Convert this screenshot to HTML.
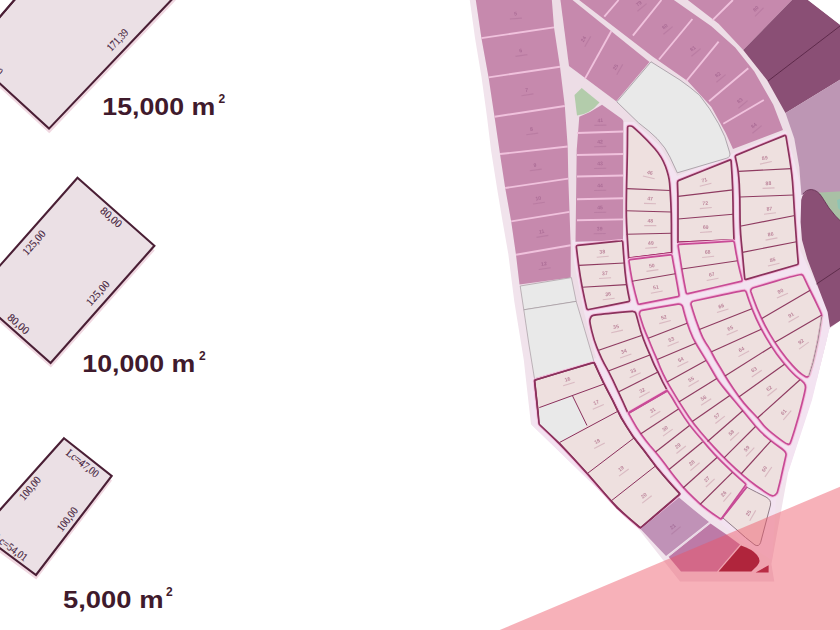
<!DOCTYPE html>
<html><head><meta charset="utf-8"><title>Lot map</title>
<style>
html,body{margin:0;padding:0;background:#fff;}
body{width:840px;height:630px;overflow:hidden;font-family:"Liberation Sans",sans-serif;}
svg{display:block}
.big{font-family:"Liberation Sans",sans-serif;font-weight:bold;font-size:23px;fill:#3f1a2c;}
.sup{font-family:"Liberation Sans",sans-serif;font-weight:bold;font-size:12px;fill:#3f1a2c;}
.dim text{font-family:"Liberation Serif",serif;font-size:11px;fill:#43203a;stroke:#43203a;stroke-width:.15px;text-anchor:middle;}
.lb text{font-family:"Liberation Sans",sans-serif;font-size:5.2px;text-anchor:middle;font-weight:bold;opacity:.7}
</style></head><body>
<svg width="840" height="630" viewBox="0 0 840 630">
<rect width="840" height="630" fill="#fff"/>
<!-- legend shapes -->
<g>
<polygon points="-31.7,58.8 49.3,133.2 190.7,-15.4 31.7,-15.4" fill="#f0d8e1"/>
<polygon points="-32,54.2 49,128.6 190.4,-20 31.4,-20" fill="#ebe0e5" stroke="#4a1f35" stroke-width="2.1" stroke-linejoin="miter"/>
<polygon points="-3,19 13,0 -3,0" fill="#fff"/>
<line x1="-3" y1="20.2" x2="16" y2="-2" stroke="#4a1f35" stroke-width="2.1"/>
<polygon points="77.8,182.3 154.7,250.4 50.9,367.6 -25.7,299.6" fill="#f0d8e1"/>
<polygon points="77.5,177.7 154.4,245.8 50.6,363 -26,295" fill="#ebe0e5" stroke="#4a1f35" stroke-width="2.1"/>
<polygon points="64.3,442.9 112.0,480.6 36.3,579.6 -20.3,537.6" fill="#f0d8e1"/>
<polygon points="64,438.3 111.7,476 36,575 -20.6,533" fill="#ebe0e5" stroke="#4a1f35" stroke-width="2.1"/>
</g>
<g class="dim">
<g transform="translate(117.6 40) rotate(-46.4) scale(.85 1)"><text x="0" y="3.6">171,39</text></g>
<g transform="translate(-6.6 66.3) rotate(43) scale(.85 1)"><text x="0" y="3.6">00,00</text></g>
<g transform="translate(111.2 217.3) rotate(41.4) scale(1 1)"><text x="0" y="3.6">80,00</text></g>
<g transform="translate(33.9 242.7) rotate(-48.6) scale(.97 1)"><text x="0" y="3.6">125,00</text></g>
<g transform="translate(97.8 293) rotate(-48.6) scale(.97 1)"><text x="0" y="3.6">125,00</text></g>
<g transform="translate(18.4 323.9) rotate(41.4) scale(1 1)"><text x="0" y="3.6">80,00</text></g>
<g transform="translate(82.7 463.3) rotate(38.3) scale(.9 1)"><text x="0" y="3.6">Lc=47,00</text></g>
<g transform="translate(30 488.3) rotate(-50) scale(.9 1)"><text x="0" y="3.6">100,00</text></g>
<g transform="translate(67.3 519.3) rotate(-52.6) scale(.9 1)"><text x="0" y="3.6">100,00</text></g>
<g transform="translate(11 547.5) rotate(36.5) scale(.9 1)"><text x="0" y="3.6">Lc=54,01</text></g>
</g>
<text class="big" x="102.3" y="114.8" textLength="113" lengthAdjust="spacingAndGlyphs">15,000 m</text>
<text class="sup" x="218.5" y="102.5">2</text>
<text class="big" x="82.3" y="372.4" textLength="113" lengthAdjust="spacingAndGlyphs">10,000 m</text>
<text class="sup" x="199" y="360">2</text>
<text class="big" x="63" y="607.5" textLength="100.5" lengthAdjust="spacingAndGlyphs">5,000 m</text>
<text class="sup" x="166" y="596.3">2</text>
<!-- map -->
<defs><filter id="sf" x="-5%" y="-5%" width="110%" height="110%"><feGaussianBlur stdDeviation="0.55"/></filter></defs>
<g filter="url(#sf)">
<polygon points="469.5,-2.0 475.0,38.0 481.5,77.0 487.0,117.0 491.0,150.0 497.0,188.0 502.5,221.0 508.3,254.0 514.3,301.4 523.8,360.0 526.0,380.0 531.0,424.3 637.0,527.0 680.0,581.4 774.3,581.4 771.4,564.0 788.6,470.0 811.4,400.0 826.3,341.5 829.0,329.0 842.0,319.0 842.0,-2.0" fill="#f1e3ec"/>
<polygon points="475.5,-2.0 481.4,38.1 488.6,77.4 494.5,116.7 500.0,154.0 505.2,188.0 511.2,221.4 516.0,254.8 519.5,284.5 523.8,309.8 534.5,378.8 817.0,378.8 826.3,341.5 829.0,329.0 842.0,319.0 842.0,-2.0" fill="#eddde6"/>
<polygon points="572.0,240.0 624.0,236.0 624.0,122.0 634.0,122.0 660.0,146.0 677.0,176.0 732.0,154.0 786.0,131.0 802.0,190.0 800.0,250.0 832.0,318.0 812.0,400.0 789.0,470.0 776.0,500.0 772.0,560.0 740.0,540.0 700.0,505.0 680.0,497.0 640.0,530.0 532.0,425.0 530.0,378.0 596.0,358.0 584.0,312.0 574.0,262.0" fill="#f3e3f1"/>
<polygon points="475.5,-2.0 481.4,38.1 488.6,77.4 494.5,116.7 500.0,154.0 505.2,188.0 511.2,221.4 516.0,254.8 519.5,284.5 570.7,277.4 570.7,245.2 569.5,211.9 568.3,178.6 567.7,146.5 564.8,106.0 560.0,66.7 554.0,27.4 551.7,-2.0" fill="#c689ad"/>
<line x1="481.4" y1="38.1" x2="554.0" y2="27.4" stroke="#f0c2dd" stroke-width="1.9"/>
<line x1="488.6" y1="77.4" x2="560.0" y2="66.7" stroke="#f0c2dd" stroke-width="1.9"/>
<line x1="494.5" y1="116.7" x2="564.8" y2="106.0" stroke="#f0c2dd" stroke-width="1.9"/>
<line x1="500.0" y1="154.0" x2="567.7" y2="146.5" stroke="#f0c2dd" stroke-width="1.9"/>
<line x1="505.2" y1="188.0" x2="568.3" y2="178.6" stroke="#f0c2dd" stroke-width="1.9"/>
<line x1="511.2" y1="221.4" x2="569.5" y2="211.9" stroke="#f0c2dd" stroke-width="1.9"/>
<line x1="516.0" y1="254.8" x2="570.7" y2="245.2" stroke="#f0c2dd" stroke-width="1.9"/>
<polygon points="520.2,286.0 571.4,277.6 576.2,301.4 523.8,309.8" fill="#e9e9e9" stroke="#9a8f96" stroke-width="0.6"/>
<polygon points="523.8,309.8 576.2,301.4 583.3,325.2 591.7,353.8 594.0,362.0 534.5,378.8 529.0,345.0" fill="#e9e9e9" stroke="#9a8f96" stroke-width="0.6"/>
<polygon points="579.3,116.7 590.0,112.0 602.0,104.8 622.0,119.0 623.3,121.0 623.0,240.5 575.5,241.7 576.7,150.0" fill="#c689ad"/>
<line x1="577.0" y1="133.0" x2="623.2" y2="131.5" stroke="#f0c2dd" stroke-width="1.9"/>
<line x1="577.0" y1="155.0" x2="623.2" y2="154.0" stroke="#f0c2dd" stroke-width="1.9"/>
<line x1="577.0" y1="176.5" x2="623.2" y2="175.5" stroke="#f0c2dd" stroke-width="1.9"/>
<line x1="577.0" y1="199.2" x2="623.2" y2="198.2" stroke="#f0c2dd" stroke-width="1.9"/>
<line x1="577.0" y1="220.3" x2="623.2" y2="219.4" stroke="#f0c2dd" stroke-width="1.9"/>
<polygon points="560.2,-2.0 570.0,-2.0 649.5,62.0 616.2,101.2 569.0,66.0" fill="#c689ad"/>
<line x1="585.0" y1="78.6" x2="611.4" y2="31.0" stroke="#f0c2dd" stroke-width="1.9"/>
<path d="M581.7,88 L574.5,95 L577,115.5 Q590,114 599.5,102.4 Z" fill="#b3ccab"/>
<polygon points="576.5,-2.0 671.0,-2.0 711.4,26.2 735.2,47.6 754.3,71.4 773.3,104.8 783.0,130.0 733.0,149.0 725.7,133.0 711.4,107.0 687.6,81.0 653.2,57.0" fill="#c689ad"/>
<line x1="604.3" y1="16.7" x2="618.6" y2="0.0" stroke="#f0c2dd" stroke-width="1.9"/>
<line x1="632.9" y1="35.7" x2="661.4" y2="0.0" stroke="#f0c2dd" stroke-width="1.9"/>
<line x1="659.0" y1="59.5" x2="692.4" y2="19.0" stroke="#f0c2dd" stroke-width="1.9"/>
<line x1="686.4" y1="81.0" x2="718.6" y2="41.7" stroke="#f0c2dd" stroke-width="1.9"/>
<line x1="709.0" y1="101.2" x2="748.3" y2="68.3" stroke="#f0c2dd" stroke-width="1.9"/>
<line x1="723.3" y1="123.8" x2="763.8" y2="100.0" stroke="#f0c2dd" stroke-width="1.9"/>
<polygon points="685.2,-2.0 794.0,-2.0 743.2,50.0 718.6,23.8" fill="#c689ad"/>
<line x1="712.6" y1="20.2" x2="732.9" y2="0.0" stroke="#f0c2dd" stroke-width="1.9"/>
<polygon points="743.2,50.0 794.0,-2.0 805.4,-2.0 842.0,26.2 842.0,78.5 785.5,113.0 767.0,80.0" fill="#8a4f74"/>
<line x1="768" y1="81" x2="842" y2="24.5" stroke="#5e2a4c" stroke-width="1"/>
<polygon points="805.4,-2.0 842.0,-2.0 842.0,26.2" fill="#fff"/>
<polygon points="785.5,113.0 842.0,78.5 842.0,195.0 801.4,195.0 799.3,167.0 794.3,138.6" fill="#bd96b4"/>
<polygon points="816.0,192.8 842.0,191.2 842.0,224.0 835.5,216.0 829.0,208.0 822.0,197.0" fill="#a9c0a5"/>
<polygon points="837.0,200.0 842.0,198.0 842.0,212.0 838.0,208.0" fill="#8fc4b4"/>
<path d="M811.4,189.5 Q803.5,190 801.2,200 L800.6,222 L802,240 L807.3,259 L816,281.7 L827.6,312 L830,327.2 L842,319.5 L842,222.5 L835.5,216 L829,208 L822,197 Q817.5,190 811.4,189.5 Z" fill="#8a4f74"/>
<path d="M803,194 Q806,189.5 811.4,189.5 Q817.5,190 822,197 L829,208 L835.5,216 L842,222.5" fill="none" stroke="#5e2a4c" stroke-width="0.8"/>
<line x1="842" y1="267" x2="816.5" y2="284" stroke="#5e2a4c" stroke-width="1"/>
<path d="M651,61.8 L616.8,101.8 L638.6,122.9 Q650,131.5 657.1,138.6 Q666,148 670,157.1 L677.3,172.8 L726.8,158.2 Q730.6,157 729.8,153 L728.6,149 Q726,137 718.6,123.8 Q710,108 699.5,95.2 Q690,87 680,80 L651,61.8 Z" fill="#e9e9e9" stroke="#948b93" stroke-width="0.7"/>
<path d="M577.4,255.6 L576.4,247.1 Q576.2,245.5 577.8,245.3 L599.4,243.1 L621.0,240.9 Q622.6,240.7 622.7,242.3 L623.3,250.8 Q624.0,261.0 625.1,272.3 Q626.2,283.6 628.0,292.5 L629.5,299.8 Q629.8,301.4 628.2,301.7 L608.4,305.6 L588.6,309.5 Q587.0,309.8 586.7,308.2 L584.5,298.4 Q582.0,287.0 580.3,276.4 Q578.6,265.7 577.4,255.6 Z" fill="none" stroke="#f4bcdc" stroke-width="3.6" stroke-linejoin="round"/>
<path d="M577.4,255.6 L576.4,247.1 Q576.2,245.5 577.8,245.3 L599.4,243.1 L621.0,240.9 Q622.6,240.7 622.7,242.3 L623.3,250.8 Q624.0,261.0 625.1,272.3 Q626.2,283.6 628.0,292.5 L629.5,299.8 Q629.8,301.4 628.2,301.7 L608.4,305.6 L588.6,309.5 Q587.0,309.8 586.7,308.2 L584.5,298.4 Q582.0,287.0 580.3,276.4 Q578.6,265.7 577.4,255.6 Z" fill="#eee0df" stroke="#8b305c" stroke-width="1.7" stroke-linejoin="round"/>
<line x1="578.8" y1="265.4" x2="624.2" y2="263.0" stroke="#8e3a60" stroke-width="1.15"/>
<line x1="582.0" y1="287.2" x2="626.5" y2="284.6" stroke="#8e3a60" stroke-width="1.15"/>
<path d="M627.5,138.0 L627.6,127.6 Q627.6,126.0 629.2,126.0 L629.8,126.0 L630.4,126.0 Q632.0,126.0 633.2,127.1 L639.8,133.2 Q647.6,140.5 654.8,148.8 Q661.9,157.0 665.5,166.5 Q669.0,176.0 669.6,183.2 Q670.2,190.5 670.8,202.2 Q671.4,214.0 671.4,224.2 Q671.4,234.5 671.5,243.8 L671.6,251.4 Q671.6,253.0 670.0,253.2 L650.2,255.7 L630.3,258.1 Q628.7,258.3 628.6,256.7 L627.5,240.2 Q626.3,222.0 626.3,209.5 Q626.3,197.0 626.9,173.5 Q627.5,150.0 627.5,138.0 Z" fill="none" stroke="#f4bcdc" stroke-width="3.6" stroke-linejoin="round"/>
<path d="M627.5,138.0 L627.6,127.6 Q627.6,126.0 629.2,126.0 L629.8,126.0 L630.4,126.0 Q632.0,126.0 633.2,127.1 L639.8,133.2 Q647.6,140.5 654.8,148.8 Q661.9,157.0 665.5,166.5 Q669.0,176.0 669.6,183.2 Q670.2,190.5 670.8,202.2 Q671.4,214.0 671.4,224.2 Q671.4,234.5 671.5,243.8 L671.6,251.4 Q671.6,253.0 670.0,253.2 L650.2,255.7 L630.3,258.1 Q628.7,258.3 628.6,256.7 L627.5,240.2 Q626.3,222.0 626.3,209.5 Q626.3,197.0 626.9,173.5 Q627.5,150.0 627.5,138.0 Z" fill="#eee0df" stroke="#8b305c" stroke-width="1.7" stroke-linejoin="round"/>
<line x1="626.8" y1="188.6" x2="670.2" y2="190.5" stroke="#8e3a60" stroke-width="1.15"/>
<line x1="626.3" y1="210.7" x2="671.2" y2="212.0" stroke="#8e3a60" stroke-width="1.15"/>
<line x1="626.4" y1="234.2" x2="671.4" y2="233.2" stroke="#8e3a60" stroke-width="1.15"/>
<line x1="628.7" y1="258.3" x2="671.6" y2="253.0" stroke="#a62a6a" stroke-width="2" stroke-linecap="round"/>
<path d="M677.7,188.7 L677.5,182.6 Q677.4,181.0 678.9,180.4 L704.2,170.2 L729.5,160.1 Q731.0,159.5 731.1,161.1 L732.0,174.8 Q732.9,190.0 733.0,202.2 Q733.0,214.3 733.5,227.2 L733.9,238.4 Q734.0,240.0 732.4,240.1 L706.0,241.2 L679.6,242.4 Q678.0,242.5 678.0,240.9 L678.0,230.8 Q678.0,219.0 678.0,207.7 Q678.0,196.4 677.7,188.7 Z" fill="none" stroke="#f4bcdc" stroke-width="3.6" stroke-linejoin="round"/>
<path d="M677.7,188.7 L677.5,182.6 Q677.4,181.0 678.9,180.4 L704.2,170.2 L729.5,160.1 Q731.0,159.5 731.1,161.1 L732.0,174.8 Q732.9,190.0 733.0,202.2 Q733.0,214.3 733.5,227.2 L733.9,238.4 Q734.0,240.0 732.4,240.1 L706.0,241.2 L679.6,242.4 Q678.0,242.5 678.0,240.9 L678.0,230.8 Q678.0,219.0 678.0,207.7 Q678.0,196.4 677.7,188.7 Z" fill="#eee0df" stroke="#8b305c" stroke-width="1.7" stroke-linejoin="round"/>
<line x1="678.0" y1="196.4" x2="732.9" y2="189.9" stroke="#8e3a60" stroke-width="1.15"/>
<line x1="678.0" y1="219.0" x2="733.0" y2="214.3" stroke="#8e3a60" stroke-width="1.15"/>
<line x1="678.0" y1="242.5" x2="734.0" y2="240.0" stroke="#a62a6a" stroke-width="2" stroke-linecap="round"/>
<path d="M736.8,163.6 L735.4,157.3 Q735.0,155.7 736.5,155.1 L760.4,145.3 L784.2,135.6 Q785.7,135.0 786.0,136.6 L788.5,151.8 Q791.4,168.6 792.5,181.8 Q793.5,195.0 794.2,208.2 Q795.0,221.4 795.8,231.7 Q796.5,242.0 797.4,253.2 L798.2,262.7 Q798.3,264.3 796.8,264.7 L771.5,272.1 L746.3,279.4 Q744.8,279.8 744.7,278.2 L743.6,266.1 Q742.4,252.4 741.2,240.5 Q740.0,228.6 740.0,212.8 Q740.0,197.0 739.3,184.2 Q738.6,171.4 736.8,163.6 Z" fill="none" stroke="#f4bcdc" stroke-width="3.6" stroke-linejoin="round"/>
<path d="M736.8,163.6 L735.4,157.3 Q735.0,155.7 736.5,155.1 L760.4,145.3 L784.2,135.6 Q785.7,135.0 786.0,136.6 L788.5,151.8 Q791.4,168.6 792.5,181.8 Q793.5,195.0 794.2,208.2 Q795.0,221.4 795.8,231.7 Q796.5,242.0 797.4,253.2 L798.2,262.7 Q798.3,264.3 796.8,264.7 L771.5,272.1 L746.3,279.4 Q744.8,279.8 744.7,278.2 L743.6,266.1 Q742.4,252.4 741.2,240.5 Q740.0,228.6 740.0,212.8 Q740.0,197.0 739.3,184.2 Q738.6,171.4 736.8,163.6 Z" fill="#eee0df" stroke="#8b305c" stroke-width="1.7" stroke-linejoin="round"/>
<line x1="738.6" y1="171.4" x2="791.4" y2="168.6" stroke="#8e3a60" stroke-width="1.15"/>
<line x1="740.0" y1="197.0" x2="793.6" y2="195.0" stroke="#8e3a60" stroke-width="1.15"/>
<line x1="740.0" y1="226.2" x2="794.8" y2="215.5" stroke="#8e3a60" stroke-width="1.15"/>
<line x1="742.4" y1="252.4" x2="796.5" y2="241.7" stroke="#8e3a60" stroke-width="1.15"/>
<path d="M589.9,320.2 Q590.2,318.4 590.9,317.2 L590.9,317.1 Q591.5,316.0 592.6,315.6 L592.8,315.5 Q594.0,315.0 612.6,313.1 Q631.2,311.2 633.1,311.5 L633.4,311.6 Q635.0,311.8 635.6,313.0 L635.6,313.1 Q636.3,314.5 638.5,323.1 Q640.7,331.7 643.5,339.3 Q646.4,346.9 648.7,351.9 Q651.0,357.0 652.6,361.1 Q654.3,365.2 656.9,370.1 Q659.5,375.0 661.0,378.5 Q662.5,382.0 664.9,386.2 L666.5,389.1 Q667.3,390.5 665.9,391.3 L647.7,401.8 L629.5,412.3 Q628.1,413.1 627.4,411.6 L622.9,401.6 Q617.6,390.2 612.9,380.2 Q608.1,370.2 606.2,367.1 Q604.3,364.0 602.0,359.2 Q599.8,354.5 596.9,347.4 Q594.0,340.2 591.8,331.1 Q589.6,322.0 589.9,320.2 Z" fill="none" stroke="#f4bcdc" stroke-width="3.6" stroke-linejoin="round"/>
<path d="M589.9,320.2 Q590.2,318.4 590.9,317.2 L590.9,317.1 Q591.5,316.0 592.6,315.6 L592.8,315.5 Q594.0,315.0 612.6,313.1 Q631.2,311.2 633.1,311.5 L633.4,311.6 Q635.0,311.8 635.6,313.0 L635.6,313.1 Q636.3,314.5 638.5,323.1 Q640.7,331.7 643.5,339.3 Q646.4,346.9 648.7,351.9 Q651.0,357.0 652.6,361.1 Q654.3,365.2 656.9,370.1 Q659.5,375.0 661.0,378.5 Q662.5,382.0 664.9,386.2 L666.5,389.1 Q667.3,390.5 665.9,391.3 L647.7,401.8 L629.5,412.3 Q628.1,413.1 627.4,411.6 L622.9,401.6 Q617.6,390.2 612.9,380.2 Q608.1,370.2 606.2,367.1 Q604.3,364.0 602.0,359.2 Q599.8,354.5 596.9,347.4 Q594.0,340.2 591.8,331.1 Q589.6,322.0 589.9,320.2 Z" fill="#eee0df" stroke="#8b305c" stroke-width="1.7" stroke-linejoin="round"/>
<line x1="598.0" y1="350.5" x2="641.5" y2="335.5" stroke="#8e3a60" stroke-width="1.15"/>
<line x1="608.3" y1="371.0" x2="650.5" y2="354.8" stroke="#8e3a60" stroke-width="1.15"/>
<line x1="618.3" y1="392.0" x2="658.5" y2="371.8" stroke="#8e3a60" stroke-width="1.15"/>
<line x1="628.6" y1="412.8" x2="667.0" y2="390.7" stroke="#c84c96" stroke-width="2" stroke-linecap="round"/>
<path d="M536.9,402.2 L534.7,381.8 Q534.5,380.2 536.0,379.7 L564.2,371.3 L592.5,362.9 Q594.0,362.4 594.7,363.9 L598.6,372.5 Q603.3,382.6 608.0,391.6 Q612.8,400.5 617.0,409.3 Q621.2,418.1 626.9,427.1 Q632.6,436.2 638.0,443.0 Q643.5,449.8 650.3,459.0 Q657.1,468.1 662.9,474.8 Q668.6,481.4 674.3,487.7 L678.9,492.8 Q680.0,494.0 678.8,495.0 L660.2,511.0 L641.7,527.0 Q640.5,528.0 639.3,527.0 L628.6,517.8 Q616.7,507.6 602.4,491.0 Q588.0,474.3 573.8,458.8 Q559.5,443.3 549.4,433.8 L540.5,425.4 Q539.3,424.3 539.1,422.7 L536.9,402.2 Z" fill="none" stroke="#f4bcdc" stroke-width="3.6" stroke-linejoin="round"/>
<path d="M536.9,402.2 L534.7,381.8 Q534.5,380.2 536.0,379.7 L564.2,371.3 L592.5,362.9 Q594.0,362.4 594.7,363.9 L598.6,372.5 Q603.3,382.6 608.0,391.6 Q612.8,400.5 617.0,409.3 Q621.2,418.1 626.9,427.1 Q632.6,436.2 638.0,443.0 Q643.5,449.8 650.3,459.0 Q657.1,468.1 662.9,474.8 Q668.6,481.4 674.3,487.7 L678.9,492.8 Q680.0,494.0 678.8,495.0 L660.2,511.0 L641.7,527.0 Q640.5,528.0 639.3,527.0 L628.6,517.8 Q616.7,507.6 602.4,491.0 Q588.0,474.3 573.8,458.8 Q559.5,443.3 549.4,433.8 L540.5,425.4 Q539.3,424.3 539.1,422.7 L536.9,402.2 Z" fill="#eee0df" stroke="#8b305c" stroke-width="1.7" stroke-linejoin="round"/>
<polygon points="539.3,407.6 572.6,396.0 587.0,425.5 559.5,443.3 539.3,424.3" fill="#e9e9e9"/>
<polygon points="534.5,380.2 594.0,362.4 603.3,382.6 612.8,400.5 621.2,418.1 632.6,436.2 643.5,449.8 657.1,468.1 668.6,481.4 680.0,494.0 640.5,528.0 616.7,507.6 588.0,474.3 559.5,443.3 539.3,424.3" fill="none" stroke="#8b305c" stroke-width="1.5" stroke-linejoin="round"/>
<line x1="539.3" y1="407.6" x2="604" y2="384" stroke="#8b305c" stroke-width="1"/>
<line x1="572.6" y1="396" x2="587" y2="425.5" stroke="#8b305c" stroke-width="1"/>
<line x1="559.5" y1="442.5" x2="618" y2="411.2" stroke="#8b305c" stroke-width="1"/>
<line x1="588" y1="473" x2="634" y2="438" stroke="#8b305c" stroke-width="1"/>
<line x1="611" y1="501" x2="655.5" y2="466" stroke="#8b305c" stroke-width="1"/>
<path d="M630.4,270.6 L629.0,261.4 Q628.8,259.8 630.4,259.6 L650.3,257.2 L670.2,254.8 Q671.8,254.6 672.1,256.2 L673.5,264.1 Q675.3,273.5 677.3,284.9 L679.0,294.7 Q679.3,296.3 677.7,296.6 L658.8,300.4 L639.8,304.2 Q638.2,304.5 637.8,303.0 L635.1,292.9 Q632.0,281.3 630.4,270.6 Z" fill="none" stroke="#f4bcdc" stroke-width="3.6" stroke-linejoin="round"/>
<path d="M630.4,270.6 L629.0,261.4 Q628.8,259.8 630.4,259.6 L650.3,257.2 L670.2,254.8 Q671.8,254.6 672.1,256.2 L673.5,264.1 Q675.3,273.5 677.3,284.9 L679.0,294.7 Q679.3,296.3 677.7,296.6 L658.8,300.4 L639.8,304.2 Q638.2,304.5 637.8,303.0 L635.1,292.9 Q632.0,281.3 630.4,270.6 Z" fill="#eee0df" stroke="#c84c96" stroke-width="1.7" stroke-linejoin="round"/>
<line x1="632.0" y1="281.2" x2="675.3" y2="273.8" stroke="#8e3a60" stroke-width="1.15"/>
<path d="M679.9,256.8 L678.2,246.1 Q678.0,244.5 679.6,244.4 L706.0,242.8 L732.4,241.1 Q734.0,241.0 734.3,242.6 L735.8,251.5 Q737.6,262.0 740.0,271.5 L742.0,279.4 Q742.4,281.0 740.8,281.4 L714.4,287.5 L688.0,293.6 Q686.4,294.0 686.1,292.4 L684.0,281.5 Q681.7,269.0 679.9,256.8 Z" fill="none" stroke="#f4bcdc" stroke-width="3.6" stroke-linejoin="round"/>
<path d="M679.9,256.8 L678.2,246.1 Q678.0,244.5 679.6,244.4 L706.0,242.8 L732.4,241.1 Q734.0,241.0 734.3,242.6 L735.8,251.5 Q737.6,262.0 740.0,271.5 L742.0,279.4 Q742.4,281.0 740.8,281.4 L714.4,287.5 L688.0,293.6 Q686.4,294.0 686.1,292.4 L684.0,281.5 Q681.7,269.0 679.9,256.8 Z" fill="#eee0df" stroke="#c84c96" stroke-width="1.7" stroke-linejoin="round"/>
<line x1="681.7" y1="269.0" x2="737.6" y2="260.7" stroke="#8e3a60" stroke-width="1.15"/>
<path d="M639.9,312.1 L639.8,312.2 Q639.3,313.5 639.7,315.0 L641.2,320.1 Q643.1,326.7 645.8,332.9 Q648.5,339.0 651.0,345.2 Q653.5,351.5 655.5,355.8 Q657.4,360.0 658.5,363.1 Q659.5,366.2 663.1,373.8 Q666.7,381.4 671.0,388.4 Q675.2,395.5 679.5,402.4 Q683.8,409.3 689.0,416.9 Q694.3,424.5 700.6,432.0 Q707.0,439.5 713.8,446.9 Q720.5,454.2 728.4,461.9 Q736.2,469.5 742.9,475.2 Q749.5,481.0 756.2,485.8 Q762.9,490.5 766.5,492.9 Q770.0,495.3 771.8,495.6 L771.9,495.7 Q773.5,496.0 774.8,495.1 L775.2,494.8 L775.7,494.4 Q777.0,493.5 777.4,492.0 L778.5,487.8 Q780.0,482.0 780.8,478.5 Q781.5,475.0 783.9,464.5 L785.9,455.6 Q786.3,454.0 785.5,452.6 L785.3,452.3 Q784.3,450.6 779.6,447.3 Q775.0,444.0 767.9,438.3 Q760.8,432.6 755.1,425.8 Q749.5,419.0 744.8,413.2 Q740.0,407.4 734.8,401.2 Q729.5,395.0 724.8,389.1 Q720.0,383.3 718.1,380.5 Q716.2,377.6 712.4,371.0 Q708.6,364.3 704.6,357.9 Q700.6,351.5 696.6,344.8 Q692.6,338.1 689.8,330.5 Q686.9,322.9 684.6,314.2 L682.7,307.0 Q682.3,305.5 681.0,304.8 L680.9,304.7 L680.8,304.6 Q679.5,303.9 677.9,304.2 L660.0,307.2 L642.1,310.3 Q640.5,310.6 640.0,311.9 L639.9,312.1 Z" fill="none" stroke="#f4bcdc" stroke-width="3.6" stroke-linejoin="round"/>
<path d="M639.9,312.1 L639.8,312.2 Q639.3,313.5 639.7,315.0 L641.2,320.1 Q643.1,326.7 645.8,332.9 Q648.5,339.0 651.0,345.2 Q653.5,351.5 655.5,355.8 Q657.4,360.0 658.5,363.1 Q659.5,366.2 663.1,373.8 Q666.7,381.4 671.0,388.4 Q675.2,395.5 679.5,402.4 Q683.8,409.3 689.0,416.9 Q694.3,424.5 700.6,432.0 Q707.0,439.5 713.8,446.9 Q720.5,454.2 728.4,461.9 Q736.2,469.5 742.9,475.2 Q749.5,481.0 756.2,485.8 Q762.9,490.5 766.5,492.9 Q770.0,495.3 771.8,495.6 L771.9,495.7 Q773.5,496.0 774.8,495.1 L775.2,494.8 L775.7,494.4 Q777.0,493.5 777.4,492.0 L778.5,487.8 Q780.0,482.0 780.8,478.5 Q781.5,475.0 783.9,464.5 L785.9,455.6 Q786.3,454.0 785.5,452.6 L785.3,452.3 Q784.3,450.6 779.6,447.3 Q775.0,444.0 767.9,438.3 Q760.8,432.6 755.1,425.8 Q749.5,419.0 744.8,413.2 Q740.0,407.4 734.8,401.2 Q729.5,395.0 724.8,389.1 Q720.0,383.3 718.1,380.5 Q716.2,377.6 712.4,371.0 Q708.6,364.3 704.6,357.9 Q700.6,351.5 696.6,344.8 Q692.6,338.1 689.8,330.5 Q686.9,322.9 684.6,314.2 L682.7,307.0 Q682.3,305.5 681.0,304.8 L680.9,304.7 L680.8,304.6 Q679.5,303.9 677.9,304.2 L660.0,307.2 L642.1,310.3 Q640.5,310.6 640.0,311.9 L639.9,312.1 Z" fill="#eee0df" stroke="#c84c96" stroke-width="1.7" stroke-linejoin="round"/>
<line x1="648.2" y1="338.3" x2="687.0" y2="323.2" stroke="#8e3a60" stroke-width="1.15"/>
<line x1="657.2" y1="359.5" x2="695.7" y2="343.3" stroke="#8e3a60" stroke-width="1.15"/>
<line x1="667.0" y1="382.0" x2="706.0" y2="360.5" stroke="#8e3a60" stroke-width="1.15"/>
<line x1="678.8" y1="402.0" x2="716.8" y2="378.5" stroke="#8e3a60" stroke-width="1.15"/>
<line x1="692.3" y1="421.5" x2="729.8" y2="395.5" stroke="#8e3a60" stroke-width="1.15"/>
<line x1="707.5" y1="441.5" x2="743.0" y2="410.5" stroke="#8e3a60" stroke-width="1.15"/>
<line x1="724.0" y1="457.8" x2="755.5" y2="426.5" stroke="#8e3a60" stroke-width="1.15"/>
<line x1="741.0" y1="474.0" x2="771.0" y2="440.8" stroke="#8e3a60" stroke-width="1.15"/>
<path d="M691.6,302.4 L691.5,302.5 Q690.7,303.5 691.2,305.0 L693.1,311.2 Q695.5,319.0 698.4,326.6 Q701.2,334.3 703.1,338.1 Q705.0,341.9 707.8,345.9 Q710.5,350.0 713.0,355.0 Q715.5,360.0 717.8,363.5 Q720.0,367.0 724.2,374.2 Q728.5,381.5 733.8,389.3 Q739.0,397.1 744.0,403.1 Q749.0,409.0 754.0,414.0 Q759.0,419.0 762.0,423.2 Q765.0,427.4 772.1,433.1 Q779.2,438.8 782.9,441.4 Q786.5,444.0 788.0,444.2 L788.1,444.3 Q789.5,444.5 790.2,443.1 L790.2,443.0 Q791.0,441.5 794.8,429.3 Q798.6,417.1 802.0,403.3 Q805.5,389.5 805.5,387.2 Q805.5,385.0 804.0,383.0 Q802.5,381.0 798.9,378.6 Q795.3,376.1 788.8,369.0 Q782.4,361.8 776.6,353.9 Q770.9,345.9 765.8,337.1 Q760.7,328.3 756.3,318.8 Q751.9,309.3 748.8,300.1 L746.3,292.5 Q745.8,291.0 744.8,290.7 L744.6,290.6 Q743.5,290.3 718.0,295.8 L694.1,301.0 Q692.5,301.3 691.7,302.3 L691.6,302.4 Z" fill="none" stroke="#f4bcdc" stroke-width="3.6" stroke-linejoin="round"/>
<path d="M691.6,302.4 L691.5,302.5 Q690.7,303.5 691.2,305.0 L693.1,311.2 Q695.5,319.0 698.4,326.6 Q701.2,334.3 703.1,338.1 Q705.0,341.9 707.8,345.9 Q710.5,350.0 713.0,355.0 Q715.5,360.0 717.8,363.5 Q720.0,367.0 724.2,374.2 Q728.5,381.5 733.8,389.3 Q739.0,397.1 744.0,403.1 Q749.0,409.0 754.0,414.0 Q759.0,419.0 762.0,423.2 Q765.0,427.4 772.1,433.1 Q779.2,438.8 782.9,441.4 Q786.5,444.0 788.0,444.2 L788.1,444.3 Q789.5,444.5 790.2,443.1 L790.2,443.0 Q791.0,441.5 794.8,429.3 Q798.6,417.1 802.0,403.3 Q805.5,389.5 805.5,387.2 Q805.5,385.0 804.0,383.0 Q802.5,381.0 798.9,378.6 Q795.3,376.1 788.8,369.0 Q782.4,361.8 776.6,353.9 Q770.9,345.9 765.8,337.1 Q760.7,328.3 756.3,318.8 Q751.9,309.3 748.8,300.1 L746.3,292.5 Q745.8,291.0 744.8,290.7 L744.6,290.6 Q743.5,290.3 718.0,295.8 L694.1,301.0 Q692.5,301.3 691.7,302.3 L691.6,302.4 Z" fill="#eee0df" stroke="#c84c96" stroke-width="1.7" stroke-linejoin="round"/>
<line x1="699.3" y1="329.5" x2="751.9" y2="308.7" stroke="#8e3a60" stroke-width="1.15"/>
<line x1="711.5" y1="351.8" x2="761.3" y2="329.3" stroke="#8e3a60" stroke-width="1.15"/>
<line x1="725.0" y1="376.0" x2="771.5" y2="346.7" stroke="#8e3a60" stroke-width="1.15"/>
<line x1="738.8" y1="397.0" x2="784.5" y2="364.3" stroke="#8e3a60" stroke-width="1.15"/>
<line x1="757.5" y1="418.0" x2="800.0" y2="379.8" stroke="#8e3a60" stroke-width="1.15"/>
<path d="M753.6,299.2 L751.0,292.0 Q750.5,290.5 751.2,289.5 L751.2,289.4 L751.3,289.3 Q752.0,288.3 753.5,287.8 L776.0,281.1 Q800.0,274.0 801.4,274.5 L801.5,274.6 Q802.8,275.0 803.5,276.5 L805.0,279.6 Q807.1,284.3 810.7,291.5 Q814.3,298.6 817.8,306.1 Q821.4,313.5 821.6,315.0 Q821.8,316.5 819.9,328.2 Q818.0,340.0 815.5,351.4 Q812.9,362.9 810.8,369.4 L809.3,374.5 Q808.8,376.0 807.9,376.6 L807.8,376.6 L807.7,376.7 Q806.8,377.3 805.4,376.5 L802.8,374.9 Q798.9,372.5 792.5,365.4 Q786.1,358.2 780.5,350.4 Q774.9,342.7 770.0,334.4 Q765.0,326.0 760.9,316.9 Q756.7,307.9 753.6,299.2 Z" fill="none" stroke="#f4bcdc" stroke-width="3.6" stroke-linejoin="round"/>
<path d="M753.6,299.2 L751.0,292.0 Q750.5,290.5 751.2,289.5 L751.2,289.4 L751.3,289.3 Q752.0,288.3 753.5,287.8 L776.0,281.1 Q800.0,274.0 801.4,274.5 L801.5,274.6 Q802.8,275.0 803.5,276.5 L805.0,279.6 Q807.1,284.3 810.7,291.5 Q814.3,298.6 817.8,306.1 Q821.4,313.5 821.6,315.0 Q821.8,316.5 819.9,328.2 Q818.0,340.0 815.5,351.4 Q812.9,362.9 810.8,369.4 L809.3,374.5 Q808.8,376.0 807.9,376.6 L807.8,376.6 L807.7,376.7 Q806.8,377.3 805.4,376.5 L802.8,374.9 Q798.9,372.5 792.5,365.4 Q786.1,358.2 780.5,350.4 Q774.9,342.7 770.0,334.4 Q765.0,326.0 760.9,316.9 Q756.7,307.9 753.6,299.2 Z" fill="#eee0df" stroke="#c84c96" stroke-width="1.7" stroke-linejoin="round"/>
<line x1="761.8" y1="318.5" x2="810.2" y2="290.3" stroke="#8e3a60" stroke-width="1.15"/>
<line x1="775.0" y1="342.3" x2="821.4" y2="315.2" stroke="#8e3a60" stroke-width="1.15"/>
<polyline points="821.8,316.5 818.0,340.0 812.9,362.9 808.8,376.0" fill="none" stroke="#eee0df" stroke-width="2"/>
<polyline points="821.8,316.5 818.0,340.0 812.9,362.9 808.8,376.0" fill="none" stroke="#9a7588" stroke-width="0.9"/>
<path d="M647.8,401.9 L629.7,412.4 Q628.3,413.2 629.0,414.1 L629.0,414.2 Q629.8,415.2 633.1,421.4 Q636.4,427.6 641.2,434.3 Q646.0,441.0 650.1,445.8 Q654.3,450.5 658.2,455.2 Q662.1,460.0 665.4,464.5 Q668.6,469.0 675.2,477.6 Q681.9,486.2 687.6,491.9 Q693.3,497.6 699.0,502.9 Q704.8,508.1 712.9,513.7 L719.7,518.4 Q721.0,519.3 721.9,518.0 L733.6,501.8 L745.3,485.6 Q746.2,484.3 745.0,483.3 L739.3,478.4 Q732.4,472.4 725.2,465.2 Q718.1,458.1 715.7,455.6 Q713.3,453.1 707.6,446.6 Q702.0,440.0 695.8,432.8 Q689.5,425.5 684.2,417.4 Q679.0,409.3 676.6,405.4 Q674.3,401.4 672.4,398.2 Q670.5,395.0 668.9,392.9 L668.3,392.0 Q667.3,390.7 665.9,391.5 L647.8,401.9 Z" fill="none" stroke="#f4bcdc" stroke-width="3.6" stroke-linejoin="round"/>
<path d="M647.8,401.9 L629.7,412.4 Q628.3,413.2 629.0,414.1 L629.0,414.2 Q629.8,415.2 633.1,421.4 Q636.4,427.6 641.2,434.3 Q646.0,441.0 650.1,445.8 Q654.3,450.5 658.2,455.2 Q662.1,460.0 665.4,464.5 Q668.6,469.0 675.2,477.6 Q681.9,486.2 687.6,491.9 Q693.3,497.6 699.0,502.9 Q704.8,508.1 712.9,513.7 L719.7,518.4 Q721.0,519.3 721.9,518.0 L733.6,501.8 L745.3,485.6 Q746.2,484.3 745.0,483.3 L739.3,478.4 Q732.4,472.4 725.2,465.2 Q718.1,458.1 715.7,455.6 Q713.3,453.1 707.6,446.6 Q702.0,440.0 695.8,432.8 Q689.5,425.5 684.2,417.4 Q679.0,409.3 676.6,405.4 Q674.3,401.4 672.4,398.2 Q670.5,395.0 668.9,392.9 L668.3,392.0 Q667.3,390.7 665.9,391.5 L647.8,401.9 Z" fill="#eee0df" stroke="#c84c96" stroke-width="1.7" stroke-linejoin="round"/>
<line x1="640.5" y1="434.0" x2="678.5" y2="409.0" stroke="#8e3a60" stroke-width="1.15"/>
<line x1="655.5" y1="452.0" x2="689.5" y2="425.5" stroke="#8e3a60" stroke-width="1.15"/>
<line x1="669.0" y1="469.5" x2="702.5" y2="442.0" stroke="#8e3a60" stroke-width="1.15"/>
<line x1="683.0" y1="488.0" x2="717.0" y2="457.5" stroke="#8e3a60" stroke-width="1.15"/>
<line x1="700.0" y1="504.5" x2="732.4" y2="472.4" stroke="#8e3a60" stroke-width="1.15"/>
<line x1="628.8" y1="412.8" x2="667" y2="390.8" stroke="#c84c96" stroke-width="2.2" stroke-linecap="round"/>
<path d="M722.5,517.6 L746.8,487.2 Q757,492.5 766,497 Q771.5,500 770.5,505 L760.6,542.5 Q759,547 755,545 Q745,537.5 737,530 Z" fill="#eee0df" stroke="#85707c" stroke-width="0.9"/>
<line x1="722.5" y1="517.8" x2="746.6" y2="487.2" stroke="#c84c96" stroke-width="1.8" stroke-linecap="round"/>
<polygon points="679.0,497.5 640.5,529.0 666.0,556.0 709.0,522.0 694.0,510.0" fill="#c092b7"/>
<polygon points="668.6,556.7 710.5,523.5 725.7,534.0 740.0,544.5 717.0,571.4 681.0,571.4" fill="#bd7aa7"/>
<line x1="668" y1="556.5" x2="710" y2="522.8" stroke="#e8d6e4" stroke-width="1.2"/>
<path d="M718.6,571.4 L741,545.5 Q752,549 757,555 Q762,561 757,566 L751.4,571.4 Z" fill="#7e001c"/>
<polygon points="755.7,572.5 768.6,565.2 768.6,572.5" fill="#8e0a2c"/>
</g>
<g class="lb">
<text x="515.7" y="15.4" fill="#a0608c" transform="rotate(-4.1 515.7 15.4)">5</text>
<rect x="509.7" y="18.0" width="12" height="1.1" fill="#a0608c" opacity="0.3" transform="rotate(-4.1 515.7 15.4)"/>
<text x="521.0" y="52.4" fill="#a0608c" transform="rotate(-8.5 521.0 52.4)">6</text>
<rect x="515.0" y="55.0" width="12" height="1.1" fill="#a0608c" opacity="0.3" transform="rotate(-8.5 521.0 52.4)"/>
<text x="527.0" y="91.7" fill="#a0608c" transform="rotate(-8.6 527.0 91.7)">7</text>
<rect x="521.0" y="94.3" width="12" height="1.1" fill="#a0608c" opacity="0.3" transform="rotate(-8.6 527.0 91.7)"/>
<text x="531.8" y="130.8" fill="#a0608c" transform="rotate(-7.5 531.8 130.8)">8</text>
<rect x="525.8" y="133.4" width="12" height="1.1" fill="#a0608c" opacity="0.3" transform="rotate(-7.5 531.8 130.8)"/>
<text x="535.3" y="166.8" fill="#a0608c" transform="rotate(-7.4 535.3 166.8)">9</text>
<rect x="529.3" y="169.4" width="12" height="1.1" fill="#a0608c" opacity="0.3" transform="rotate(-7.4 535.3 166.8)"/>
<text x="538.5" y="200.0" fill="#a0608c" transform="rotate(-8.8 538.5 200.0)">10</text>
<rect x="532.5" y="202.6" width="12" height="1.1" fill="#a0608c" opacity="0.3" transform="rotate(-8.8 538.5 200.0)"/>
<text x="541.9" y="233.3" fill="#a0608c" transform="rotate(-9.6 541.9 233.3)">11</text>
<rect x="535.9" y="235.9" width="12" height="1.1" fill="#a0608c" opacity="0.3" transform="rotate(-9.6 541.9 233.3)"/>
<text x="544.2" y="265.5" fill="#a0608c" transform="rotate(-9.0 544.2 265.5)">12</text>
<rect x="538.2" y="268.1" width="12" height="1.1" fill="#a0608c" opacity="0.3" transform="rotate(-9.0 544.2 265.5)"/>
<text x="600.3" y="122.1" fill="#a0608c" transform="rotate(-0.9 600.3 122.1)">41</text>
<rect x="594.3" y="124.7" width="12" height="1.1" fill="#a0608c" opacity="0.3" transform="rotate(-0.9 600.3 122.1)"/>
<text x="600.1" y="143.4" fill="#a0608c" transform="rotate(-1.5 600.1 143.4)">42</text>
<rect x="594.1" y="146.0" width="12" height="1.1" fill="#a0608c" opacity="0.3" transform="rotate(-1.5 600.1 143.4)"/>
<text x="600.1" y="165.2" fill="#a0608c" transform="rotate(-1.2 600.1 165.2)">43</text>
<rect x="594.1" y="167.8" width="12" height="1.1" fill="#a0608c" opacity="0.3" transform="rotate(-1.2 600.1 165.2)"/>
<text x="600.1" y="187.3" fill="#a0608c" transform="rotate(-1.2 600.1 187.3)">44</text>
<rect x="594.1" y="189.9" width="12" height="1.1" fill="#a0608c" opacity="0.3" transform="rotate(-1.2 600.1 187.3)"/>
<text x="600.1" y="209.3" fill="#a0608c" transform="rotate(-1.2 600.1 209.3)">45</text>
<rect x="594.1" y="211.9" width="12" height="1.1" fill="#a0608c" opacity="0.3" transform="rotate(-1.2 600.1 209.3)"/>
<text x="599.7" y="230.5" fill="#a0608c" transform="rotate(-1.3 599.7 230.5)">39</text>
<rect x="593.7" y="233.1" width="12" height="1.1" fill="#a0608c" opacity="0.3" transform="rotate(-1.3 599.7 230.5)"/>
<text x="585.0" y="40.0" fill="#a0608c" transform="rotate(-60 585.0 40.0)">24</text>
<rect x="579.0" y="42.6" width="12" height="1.1" fill="#a0608c" opacity="0.3" transform="rotate(-60 585.0 40.0)"/>
<text x="617.0" y="68.0" fill="#a0608c" transform="rotate(-60 617.0 68.0)">25</text>
<rect x="611.0" y="70.6" width="12" height="1.1" fill="#a0608c" opacity="0.3" transform="rotate(-60 617.0 68.0)"/>
<text x="640.0" y="5.0" fill="#a0608c" transform="rotate(-40 640.0 5.0)">79</text>
<rect x="634.0" y="7.6" width="12" height="1.1" fill="#a0608c" opacity="0.3" transform="rotate(-40 640.0 5.0)"/>
<text x="666.0" y="28.0" fill="#a0608c" transform="rotate(-40 666.0 28.0)">80</text>
<rect x="660.0" y="30.6" width="12" height="1.1" fill="#a0608c" opacity="0.3" transform="rotate(-40 666.0 28.0)"/>
<text x="694.0" y="50.0" fill="#a0608c" transform="rotate(-40 694.0 50.0)">81</text>
<rect x="688.0" y="52.6" width="12" height="1.1" fill="#a0608c" opacity="0.3" transform="rotate(-40 694.0 50.0)"/>
<text x="719.0" y="76.0" fill="#a0608c" transform="rotate(-40 719.0 76.0)">82</text>
<rect x="713.0" y="78.6" width="12" height="1.1" fill="#a0608c" opacity="0.3" transform="rotate(-40 719.0 76.0)"/>
<text x="741.0" y="102.0" fill="#a0608c" transform="rotate(-40 741.0 102.0)">83</text>
<rect x="735.0" y="104.6" width="12" height="1.1" fill="#a0608c" opacity="0.3" transform="rotate(-40 741.0 102.0)"/>
<text x="755.0" y="127.0" fill="#a0608c" transform="rotate(-40 755.0 127.0)">84</text>
<rect x="749.0" y="129.6" width="12" height="1.1" fill="#a0608c" opacity="0.3" transform="rotate(-40 755.0 127.0)"/>
<text x="757.0" y="10.0" fill="#a0608c" transform="rotate(-45 757.0 10.0)">80</text>
<rect x="751.0" y="12.6" width="12" height="1.1" fill="#a0608c" opacity="0.3" transform="rotate(-45 757.0 10.0)"/>
<text x="602.5" y="253.6" fill="#a8607f" transform="rotate(-4.5 602.5 253.6)">38</text>
<rect x="596.5" y="256.2" width="12" height="1.1" fill="#a8607f" opacity="0.3" transform="rotate(-4.5 602.5 253.6)"/>
<text x="604.9" y="275.0" fill="#a8607f" transform="rotate(-3.2 604.9 275.0)">37</text>
<rect x="598.9" y="277.6" width="12" height="1.1" fill="#a8607f" opacity="0.3" transform="rotate(-3.2 604.9 275.0)"/>
<text x="608.3" y="295.8" fill="#a8607f" transform="rotate(-7.2 608.3 295.8)">36</text>
<rect x="602.3" y="298.4" width="12" height="1.1" fill="#a8607f" opacity="0.3" transform="rotate(-7.2 608.3 295.8)"/>
<text x="649.5" y="174.3" fill="#a8607f" transform="rotate(13.3 649.5 174.3)">46</text>
<rect x="643.5" y="176.9" width="12" height="1.1" fill="#a8607f" opacity="0.3" transform="rotate(13.3 649.5 174.3)"/>
<text x="650.1" y="200.4" fill="#a8607f" transform="rotate(2.1 650.1 200.4)">47</text>
<rect x="644.1" y="203.0" width="12" height="1.1" fill="#a8607f" opacity="0.3" transform="rotate(2.1 650.1 200.4)"/>
<text x="650.3" y="222.5" fill="#a8607f" transform="rotate(0.2 650.3 222.5)">48</text>
<rect x="644.3" y="225.1" width="12" height="1.1" fill="#a8607f" opacity="0.3" transform="rotate(0.2 650.3 222.5)"/>
<text x="651.0" y="244.7" fill="#a8607f" transform="rotate(-4.1 651.0 244.7)">49</text>
<rect x="645.0" y="247.3" width="12" height="1.1" fill="#a8607f" opacity="0.3" transform="rotate(-4.1 651.0 244.7)"/>
<text x="704.8" y="181.7" fill="#a8607f" transform="rotate(-14.5 704.8 181.7)">71</text>
<rect x="698.8" y="184.3" width="12" height="1.1" fill="#a8607f" opacity="0.3" transform="rotate(-14.5 704.8 181.7)"/>
<text x="705.5" y="204.9" fill="#a8607f" transform="rotate(-5.8 705.5 204.9)">72</text>
<rect x="699.5" y="207.5" width="12" height="1.1" fill="#a8607f" opacity="0.3" transform="rotate(-5.8 705.5 204.9)"/>
<text x="705.8" y="228.9" fill="#a8607f" transform="rotate(-3.7 705.8 228.9)">69</text>
<rect x="699.8" y="231.5" width="12" height="1.1" fill="#a8607f" opacity="0.3" transform="rotate(-3.7 705.8 228.9)"/>
<text x="765.2" y="159.7" fill="#a8607f" transform="rotate(-12.8 765.2 159.7)">89</text>
<rect x="759.2" y="162.3" width="12" height="1.1" fill="#a8607f" opacity="0.3" transform="rotate(-12.8 765.2 159.7)"/>
<text x="768.4" y="185.0" fill="#a8607f" transform="rotate(-2.6 768.4 185.0)">88</text>
<rect x="762.4" y="187.6" width="12" height="1.1" fill="#a8607f" opacity="0.3" transform="rotate(-2.6 768.4 185.0)"/>
<text x="769.6" y="210.4" fill="#a8607f" transform="rotate(-6.7 769.6 210.4)">87</text>
<rect x="763.6" y="213.0" width="12" height="1.1" fill="#a8607f" opacity="0.3" transform="rotate(-6.7 769.6 210.4)"/>
<text x="770.9" y="235.9" fill="#a8607f" transform="rotate(-11.1 770.9 235.9)">86</text>
<rect x="764.9" y="238.5" width="12" height="1.1" fill="#a8607f" opacity="0.3" transform="rotate(-11.1 770.9 235.9)"/>
<text x="773.0" y="261.6" fill="#a8607f" transform="rotate(-13.7 773.0 261.6)">85</text>
<rect x="767.0" y="264.2" width="12" height="1.1" fill="#a8607f" opacity="0.3" transform="rotate(-13.7 773.0 261.6)"/>
<text x="616.4" y="328.4" fill="#a8607f" transform="rotate(-12.8 616.4 328.4)">35</text>
<rect x="610.4" y="331.0" width="12" height="1.1" fill="#a8607f" opacity="0.3" transform="rotate(-12.8 616.4 328.4)"/>
<text x="624.6" y="352.9" fill="#a8607f" transform="rotate(-20.0 624.6 352.9)">34</text>
<rect x="618.6" y="355.6" width="12" height="1.1" fill="#a8607f" opacity="0.3" transform="rotate(-20.0 624.6 352.9)"/>
<text x="633.9" y="372.4" fill="#a8607f" transform="rotate(-23.8 633.9 372.4)">33</text>
<rect x="627.9" y="375.0" width="12" height="1.1" fill="#a8607f" opacity="0.3" transform="rotate(-23.8 633.9 372.4)"/>
<text x="643.0" y="391.9" fill="#a8607f" transform="rotate(-28.3 643.0 391.9)">32</text>
<rect x="637.0" y="394.5" width="12" height="1.1" fill="#a8607f" opacity="0.3" transform="rotate(-28.3 643.0 391.9)"/>
<text x="568.0" y="381.0" fill="#a8607f" transform="rotate(-17 568.0 381.0)">16</text>
<rect x="562.0" y="383.6" width="12" height="1.1" fill="#a8607f" opacity="0.3" transform="rotate(-17 568.0 381.0)"/>
<text x="597.0" y="404.0" fill="#a8607f" transform="rotate(-24 597.0 404.0)">17</text>
<rect x="591.0" y="406.6" width="12" height="1.1" fill="#a8607f" opacity="0.3" transform="rotate(-24 597.0 404.0)"/>
<text x="598.0" y="443.0" fill="#a8607f" transform="rotate(-28 598.0 443.0)">18</text>
<rect x="592.0" y="445.6" width="12" height="1.1" fill="#a8607f" opacity="0.3" transform="rotate(-28 598.0 443.0)"/>
<text x="622.0" y="470.0" fill="#a8607f" transform="rotate(-36 622.0 470.0)">19</text>
<rect x="616.0" y="472.6" width="12" height="1.1" fill="#a8607f" opacity="0.3" transform="rotate(-36 622.0 470.0)"/>
<text x="645.0" y="497.0" fill="#a8607f" transform="rotate(-38 645.0 497.0)">20</text>
<rect x="639.0" y="499.6" width="12" height="1.1" fill="#a8607f" opacity="0.3" transform="rotate(-38 645.0 497.0)"/>
<text x="652.0" y="267.4" fill="#a8607f" transform="rotate(-8.3 652.0 267.4)">50</text>
<rect x="646.0" y="270.0" width="12" height="1.1" fill="#a8607f" opacity="0.3" transform="rotate(-8.3 652.0 267.4)"/>
<text x="656.2" y="288.9" fill="#a8607f" transform="rotate(-10.5 656.2 288.9)">51</text>
<rect x="650.2" y="291.6" width="12" height="1.1" fill="#a8607f" opacity="0.3" transform="rotate(-10.5 656.2 288.9)"/>
<text x="707.8" y="253.8" fill="#a8607f" transform="rotate(-6.0 707.8 253.8)">68</text>
<rect x="701.8" y="256.4" width="12" height="1.1" fill="#a8607f" opacity="0.3" transform="rotate(-6.0 707.8 253.8)"/>
<text x="712.0" y="276.2" fill="#a8607f" transform="rotate(-10.8 712.0 276.2)">67</text>
<rect x="706.0" y="278.8" width="12" height="1.1" fill="#a8607f" opacity="0.3" transform="rotate(-10.8 712.0 276.2)"/>
<text x="664.2" y="319.0" fill="#a8607f" transform="rotate(-15.3 664.2 319.0)">52</text>
<rect x="658.2" y="321.6" width="12" height="1.1" fill="#a8607f" opacity="0.3" transform="rotate(-15.3 664.2 319.0)"/>
<text x="672.0" y="341.1" fill="#a8607f" transform="rotate(-22.0 672.0 341.1)">53</text>
<rect x="666.0" y="343.7" width="12" height="1.1" fill="#a8607f" opacity="0.3" transform="rotate(-22.0 672.0 341.1)"/>
<text x="681.5" y="361.3" fill="#a8607f" transform="rotate(-25.9 681.5 361.3)">54</text>
<rect x="675.5" y="363.9" width="12" height="1.1" fill="#a8607f" opacity="0.3" transform="rotate(-25.9 681.5 361.3)"/>
<text x="692.1" y="380.8" fill="#a8607f" transform="rotate(-30.3 692.1 380.8)">55</text>
<rect x="686.1" y="383.4" width="12" height="1.1" fill="#a8607f" opacity="0.3" transform="rotate(-30.3 692.1 380.8)"/>
<text x="704.4" y="399.4" fill="#a8607f" transform="rotate(-33.3 704.4 399.4)">56</text>
<rect x="698.4" y="402.0" width="12" height="1.1" fill="#a8607f" opacity="0.3" transform="rotate(-33.3 704.4 399.4)"/>
<text x="718.1" y="417.2" fill="#a8607f" transform="rotate(-38.0 718.1 417.2)">57</text>
<rect x="712.1" y="419.9" width="12" height="1.1" fill="#a8607f" opacity="0.3" transform="rotate(-38.0 718.1 417.2)"/>
<text x="732.5" y="434.1" fill="#a8607f" transform="rotate(-42.9 732.5 434.1)">58</text>
<rect x="726.5" y="436.7" width="12" height="1.1" fill="#a8607f" opacity="0.3" transform="rotate(-42.9 732.5 434.1)"/>
<text x="747.9" y="449.8" fill="#a8607f" transform="rotate(-46.4 747.9 449.8)">59</text>
<rect x="741.9" y="452.4" width="12" height="1.1" fill="#a8607f" opacity="0.3" transform="rotate(-46.4 747.9 449.8)"/>
<text x="765.8" y="470.1" fill="#a8607f" transform="rotate(-55.1 765.8 470.1)">60</text>
<rect x="759.8" y="472.7" width="12" height="1.1" fill="#a8607f" opacity="0.3" transform="rotate(-55.1 765.8 470.1)"/>
<text x="721.8" y="307.8" fill="#a8607f" transform="rotate(-17.1 721.8 307.8)">66</text>
<rect x="715.8" y="310.4" width="12" height="1.1" fill="#a8607f" opacity="0.3" transform="rotate(-17.1 721.8 307.8)"/>
<text x="731.0" y="329.8" fill="#a8607f" transform="rotate(-22.9 731.0 329.8)">65</text>
<rect x="725.0" y="332.4" width="12" height="1.1" fill="#a8607f" opacity="0.3" transform="rotate(-22.9 731.0 329.8)"/>
<text x="742.3" y="351.0" fill="#a8607f" transform="rotate(-28.3 742.3 351.0)">64</text>
<rect x="736.3" y="353.6" width="12" height="1.1" fill="#a8607f" opacity="0.3" transform="rotate(-28.3 742.3 351.0)"/>
<text x="755.0" y="371.0" fill="#a8607f" transform="rotate(-33.9 755.0 371.0)">63</text>
<rect x="749.0" y="373.6" width="12" height="1.1" fill="#a8607f" opacity="0.3" transform="rotate(-33.9 755.0 371.0)"/>
<text x="770.2" y="389.8" fill="#a8607f" transform="rotate(-38.8 770.2 389.8)">62</text>
<rect x="764.2" y="392.4" width="12" height="1.1" fill="#a8607f" opacity="0.3" transform="rotate(-38.8 770.2 389.8)"/>
<text x="784.9" y="413.2" fill="#a8607f" transform="rotate(-49.2 784.9 413.2)">61</text>
<rect x="778.9" y="415.8" width="12" height="1.1" fill="#a8607f" opacity="0.3" transform="rotate(-49.2 784.9 413.2)"/>
<text x="781.2" y="292.8" fill="#a8607f" transform="rotate(-23.3 781.2 292.8)">90</text>
<rect x="775.2" y="295.4" width="12" height="1.1" fill="#a8607f" opacity="0.3" transform="rotate(-23.3 781.2 292.8)"/>
<text x="792.1" y="316.6" fill="#a8607f" transform="rotate(-30.3 792.1 316.6)">91</text>
<rect x="786.1" y="319.2" width="12" height="1.1" fill="#a8607f" opacity="0.3" transform="rotate(-30.3 792.1 316.6)"/>
<text x="802.1" y="343.1" fill="#a8607f" transform="rotate(-35.8 802.1 343.1)">92</text>
<rect x="796.1" y="345.7" width="12" height="1.1" fill="#a8607f" opacity="0.3" transform="rotate(-35.8 802.1 343.1)"/>
<text x="653.6" y="411.7" fill="#a8607f" transform="rotate(-31.7 653.6 411.7)">31</text>
<rect x="647.6" y="414.3" width="12" height="1.1" fill="#a8607f" opacity="0.3" transform="rotate(-31.7 653.6 411.7)"/>
<text x="666.0" y="430.1" fill="#a8607f" transform="rotate(-35.6 666.0 430.1)">30</text>
<rect x="660.0" y="432.7" width="12" height="1.1" fill="#a8607f" opacity="0.3" transform="rotate(-35.6 666.0 430.1)"/>
<text x="679.1" y="447.2" fill="#a8607f" transform="rotate(-38.7 679.1 447.2)">29</text>
<rect x="673.1" y="449.9" width="12" height="1.1" fill="#a8607f" opacity="0.3" transform="rotate(-38.7 679.1 447.2)"/>
<text x="692.9" y="464.2" fill="#a8607f" transform="rotate(-40.7 692.9 464.2)">28</text>
<rect x="686.9" y="466.9" width="12" height="1.1" fill="#a8607f" opacity="0.3" transform="rotate(-40.7 692.9 464.2)"/>
<text x="708.1" y="480.6" fill="#a8607f" transform="rotate(-43.3 708.1 480.6)">27</text>
<rect x="702.1" y="483.2" width="12" height="1.1" fill="#a8607f" opacity="0.3" transform="rotate(-43.3 708.1 480.6)"/>
<text x="724.9" y="495.1" fill="#a8607f" transform="rotate(-49.4 724.9 495.1)">26</text>
<rect x="718.9" y="497.7" width="12" height="1.1" fill="#a8607f" opacity="0.3" transform="rotate(-49.4 724.9 495.1)"/>
<text x="750.0" y="514.0" fill="#a8607f" transform="rotate(-60 750.0 514.0)">25</text>
<rect x="744.0" y="516.6" width="12" height="1.1" fill="#a8607f" opacity="0.3" transform="rotate(-60 750.0 514.0)"/>
<text x="674.0" y="528.0" fill="#9a5f8c" transform="rotate(-40 674.0 528.0)">21</text>
<rect x="668.0" y="530.6" width="12" height="1.1" fill="#9a5f8c" opacity="0.3" transform="rotate(-40 674.0 528.0)"/>
</g>
<!-- overlay -->
<polygon points="840,486.8 498.5,630.5 840,630.5" fill="rgb(237,82,99)" fill-opacity="0.45"/>
</svg>
</body></html>
